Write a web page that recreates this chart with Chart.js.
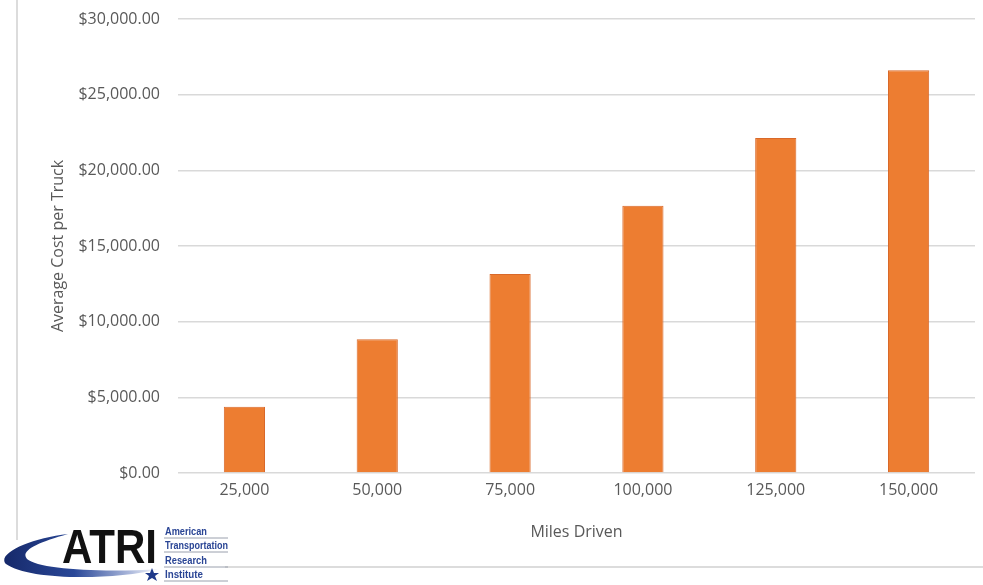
<!DOCTYPE html>
<html>
<head>
<meta charset="utf-8">
<script src="https://cdn.jsdelivr.net/npm/chart.js@4.4.1/dist/chart.umd.min.js"></script>
<style>
  html, body { margin: 0; padding: 0; background: #fff; }
  #wrap { position: relative; width: 983px; height: 585px; overflow: hidden; }
  #chart { position: absolute; left: 0; top: 0; }
  #frameLeft { position: absolute; left: 16px; top: 0; width: 2px; height: 540px; background: #dcdcdc; }
  #frameBottom { position: absolute; left: 225px; top: 566px; width: 758px; height: 2px; background: #dcdcdc; }
  #logo { position: absolute; left: 0; top: 518px; }
</style>
</head>
<body>
<div id="wrap">
  <div id="frameLeft"></div>
  <div id="frameBottom"></div>
  <canvas id="chart" width="983" height="585"></canvas>
  <svg id="logo" width="240" height="67" viewBox="0 0 240 67">
    <defs>
      <linearGradient id="swoosh" x1="0" y1="0" x2="1" y2="0">
        <stop offset="0" stop-color="#16296a"/>
        <stop offset="0.45" stop-color="#2a4898"/>
        <stop offset="0.8" stop-color="#a9b6da"/>
        <stop offset="1" stop-color="#ffffff"/>
      </linearGradient>
    </defs>
    <path d="M 160 51 C 110 63, 28 62, 6 46 C -4 36, 30 20, 68 16 C 36 25, 20 33, 27 41 C 38 51, 100 55, 160 51 Z" fill="url(#swoosh)"/>
    <text x="62" y="45" font-family="Liberation Sans, Arial, sans-serif" font-weight="bold" font-size="48" textLength="95" lengthAdjust="spacingAndGlyphs" fill="#111">ATRI</text>
    <g font-family="Liberation Sans, Arial, sans-serif" font-weight="bold" font-size="11" fill="#2a4595">
      <text x="165" y="17" textLength="42" lengthAdjust="spacingAndGlyphs">American</text>
      <text x="165" y="31" textLength="63" lengthAdjust="spacingAndGlyphs">Transportation</text>
      <text x="165" y="46" textLength="42" lengthAdjust="spacingAndGlyphs">Research</text>
      <text x="165" y="60" textLength="38" lengthAdjust="spacingAndGlyphs">Institute</text>
    </g>
    <g stroke="#9aa0ad" stroke-width="1">
      <line x1="164" y1="20" x2="228" y2="20"/>
      <line x1="164" y1="34" x2="228" y2="34"/>
      <line x1="164" y1="49" x2="228" y2="49"/>
      <line x1="164" y1="63" x2="228" y2="63"/>
    </g>
    <polygon fill="#1f3a8a" points="152,50 154,55 159,55 155,58 157,63 152,60 147,63 149,58 145,55 150,55"/>
  </svg>
</div>
<script>
const milesDriven = ['25,000', '50,000', '75,000', '100,000', '125,000', '150,000'];
const avgCost = [4380, 8830, 13150, 17660, 22140, 26610];
const yTicks = [0, 5000, 10000, 15000, 20000, 25000, 30000];

const money = v => '$' + v.toLocaleString('en-US', { minimumFractionDigits: 2, maximumFractionDigits: 2 });
const labelFont = { family: 'Open Sans', size: 16 };

const ctx = document.getElementById('chart').getContext('2d');
const chart = new Chart(ctx, {
    type: 'bar',
    data: {
        labels: milesDriven,
        datasets: [{
            label: 'Average Cost per Truck',
            data: avgCost,
            backgroundColor: '#ed7d31',
            borderColor: '#d9692a',
            borderWidth: 1,
            barPercentage: 0.31,
            categoryPercentage: 1
        }]
    },
    options: {
        responsive: false,
        animation: false,
        layout: { padding: { left: 45, right: 8, top: 19, bottom: 43 } },
        plugins: {
            legend: { display: false },
            tooltip: { enabled: false }
        },
        scales: {
            x: {
                grid: { display: false, drawTicks: false },
                border: { display: false },
                ticks: {
                    color: '#595959',
                    font: labelFont,
                    padding: 8
                },
                title: {
                    display: true,
                    text: 'Miles Driven',
                    color: '#595959',
                    font: labelFont,
                    padding: 0
                },
                afterFit: axis => { axis.height = 69; }
            },
            y: {
                min: 0,
                max: 30000,
                afterBuildTicks: axis => { axis.ticks = yTicks.map(v => ({ value: v })); },
                grid: { color: '#d9d9d9', lineWidth: 1.5, drawTicks: false },
                border: { display: false },
                ticks: {
                    color: '#595959',
                    font: labelFont,
                    padding: 18,
                    callback: v => money(v)
                },
                title: {
                    display: true,
                    text: 'Average Cost per Truck',
                    color: '#595959',
                    font: labelFont,
                    padding: { top: 4, bottom: 0 }
                },
                afterFit: axis => {
                    axis.width = 133;
                    axis.paddingTop = 0;
                    axis.paddingBottom = 0;
                }
            }
        }
    }
});
</script>
</body>
</html>
